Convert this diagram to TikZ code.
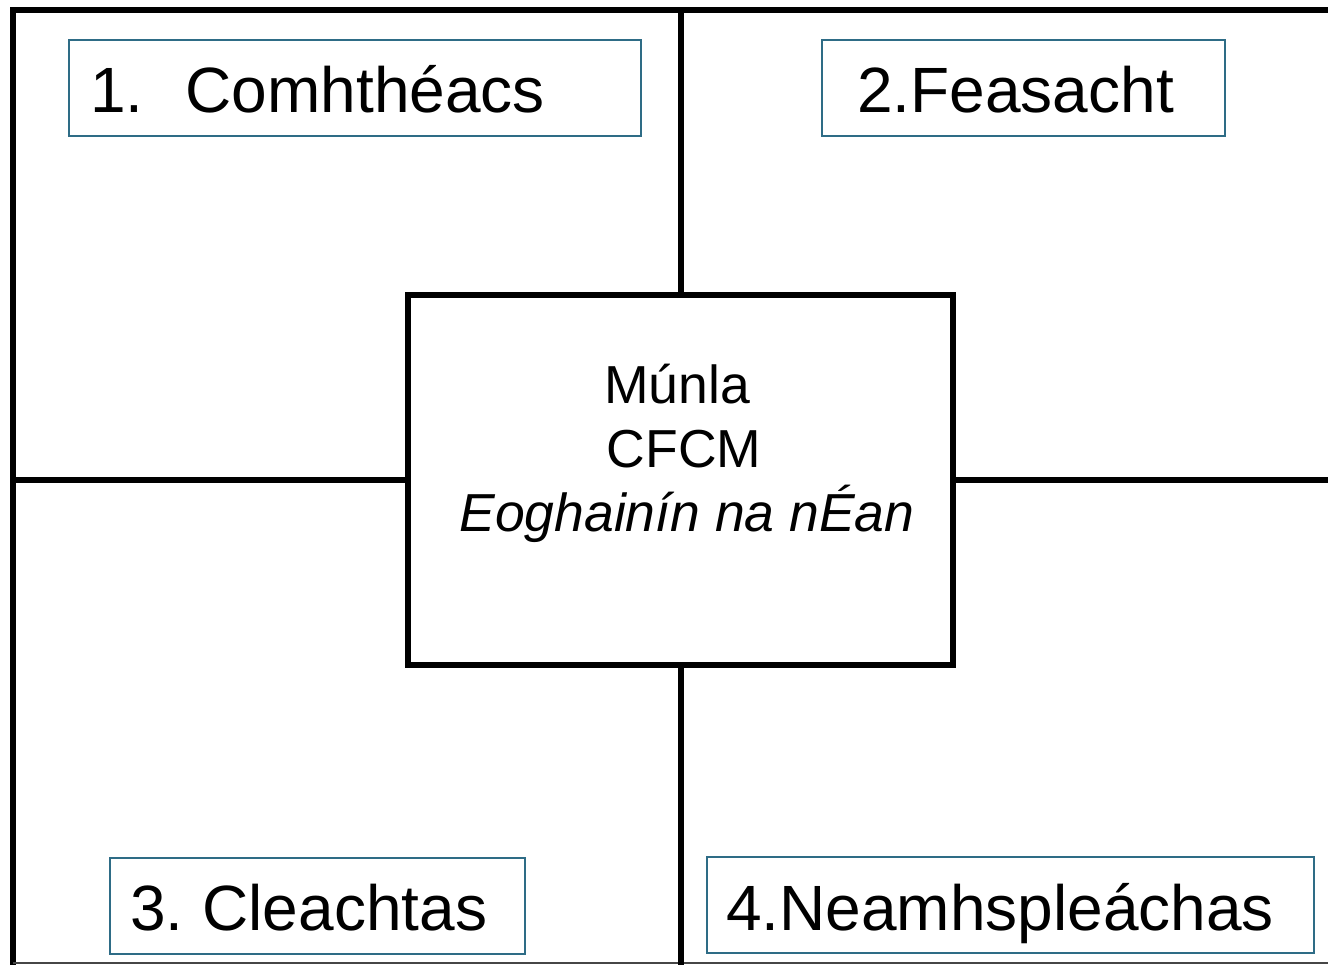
\documentclass[tikz,border=0pt]{standalone}
\usepackage{fontspec}
\setmainfont{Liberation Sans}
\definecolor{boxteal}{RGB}{46,108,134}
\definecolor{framegray}{RGB}{70,70,70}
\begin{document}
\begin{tikzpicture}[x=1pt,y=-1pt,
  frameline/.style={line width=5.5pt,black},
  divline/.style={line width=6pt,black},
  labelbox/.style={draw=boxteal,line width=1.4pt,inner sep=0pt,minimum height=96pt},
  labeltext/.style={inner sep=0pt,anchor=base west,font=\fontsize{64}{77}\selectfont},
  centertext/.style={inner sep=0pt,anchor=base,font=\fontsize{53.5}{64}\selectfont}]
\useasboundingbox (0,0) rectangle (1328,965);
% outer frame
\draw[frameline] (1328,10) -- (13,10) -- (13,965);
\draw[line width=2pt,framegray] (13,963) -- (1328,963);
% centre box
\node[draw,line width=6pt,inner sep=0pt,minimum width=545pt,minimum height=370pt] (c) at (680.5,480) {};
\coordinate (topmid) at (680.5,10);
\coordinate (botmid) at (680.5,965);
\coordinate (leftmid) at (13,480);
\coordinate (rightmid) at (1328,480);
\draw[divline] (c.north) -- (topmid);
\draw[divline] (c.south) -- (botmid);
\draw[divline] (c.west) -- (leftmid);
\draw[divline] (c.east) -- (rightmid);
% centre text
\node[centertext] (m1) at (677,403) {Múnla};
\node[centertext] (m2) at (684,467) {CFCM};
\node[centertext] (m3) at (687,531) {\itshape Eoghainín na nÉan};
% label boxes
\node[labelbox,minimum width=572pt] (b1) at (355,88) {};
\node[labelbox,minimum width=403pt] (b2) at (1023.5,88) {};
\node[labelbox,minimum width=415pt] (b3) at (317.5,906) {};
\node[labelbox,minimum width=607pt] (b4) at (1010.5,905) {};
\node[labeltext] (t1) at (90,113) {1.\hspace{42pt}Comhthéacs};
\node[labeltext] (t2) at (857,113) {2.Feasacht};
\node[labeltext] (t3) at (130,930) {3.\hspace{19pt}Cleachtas};
\node[labeltext] (t4) at (726,930) {4.Neamhspleáchas};
\end{tikzpicture}
\end{document}
